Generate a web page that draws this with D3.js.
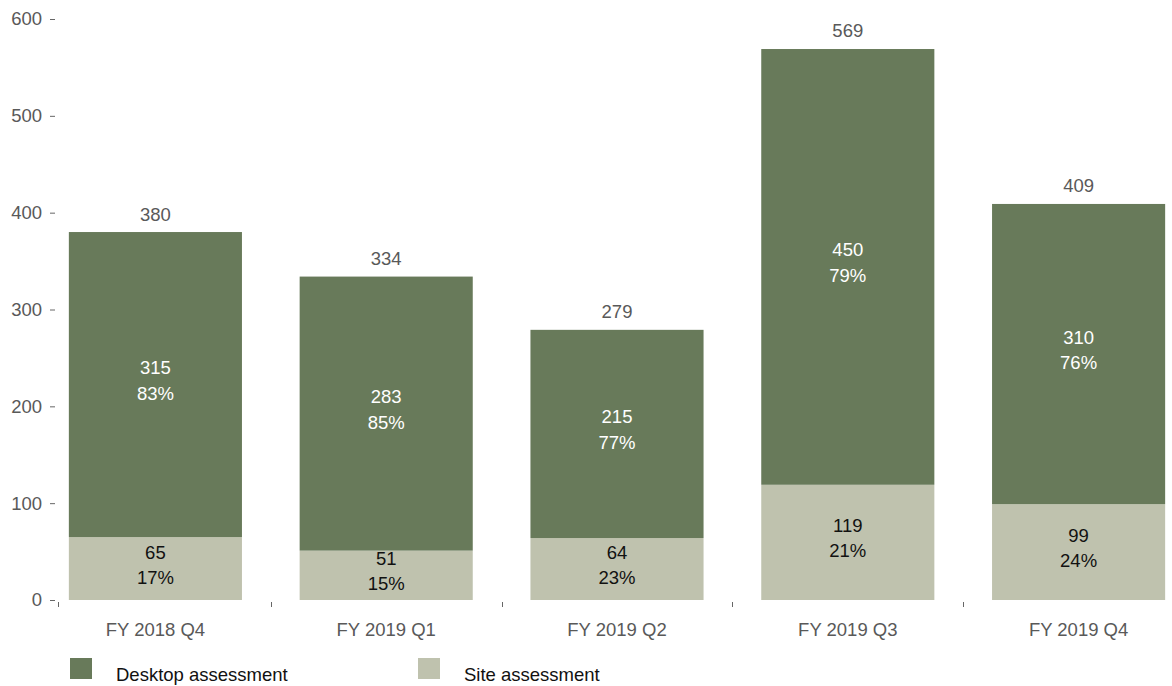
<!DOCTYPE html>
<html><head><meta charset="utf-8">
<script src="https://cdn.jsdelivr.net/npm/d3@7"></script>
<style>body{margin:0;background:#fff;} text{font-family:Arial,"Liberation Sans",sans-serif;}</style>
</head><body><svg id="c" width="1172" height="686"></svg>
<script>
const categories = ["FY 2018 Q4","FY 2019 Q1","FY 2019 Q2","FY 2019 Q3","FY 2019 Q4"];
const desktop = [315,283,215,450,310];
const site = [65,51,64,119,99];
const desktopPct = ["83%","85%","77%","79%","76%"];
const sitePct = ["17%","15%","23%","21%","24%"];
const yTicks = [0,100,200,300,400,500,600];
const seriesNames = ["Desktop assessment","Site assessment"];
const colors = ["#687a5a","#bfc2ae"];

const svg = d3.select("#c");
const x = d3.scaleBand().domain(categories).range([40,1194]).paddingInner(0.25).paddingOuter(0.125);
const y = d3.scaleLinear().domain([0,600]).range([600,19]);
const fs = 18.5;

// y axis
const ya = svg.append("g");
yTicks.forEach(t=>{
  ya.append("line").attr("x1",50).attr("x2",55).attr("y1",y(t)+0.5).attr("y2",y(t)+0.5).attr("stroke","#666").attr("stroke-width",1);
  ya.append("text").attr("x",42).attr("y",y(t)).attr("dy","0.35em").attr("text-anchor","end")
    .attr("fill","#595959").attr("font-size",fs).text(t);
});
// x ticks between categories
const step = x.step();
const bounds = [58].concat(categories.slice(1).map(c=>x(c)-x.paddingInner()*step/2));
bounds.forEach(b=>{
  svg.append("line").attr("x1",Math.round(b)+0.5).attr("x2",Math.round(b)+0.5).attr("y1",602).attr("y2",607).attr("stroke","#666");
});
categories.forEach(c=>{
  svg.append("text").attr("x",x(c)+x.bandwidth()/2).attr("y",630).attr("dy","0.35em").attr("text-anchor","middle")
    .attr("fill","#595959").attr("font-size",fs).text(c);
});

// bars
categories.forEach((c,i)=>{
  const bx = x(c), bw = x.bandwidth(), cx = bx+bw/2;
  const tot = site[i]+desktop[i];
  svg.append("rect").attr("x",bx).attr("width",bw).attr("y",y(site[i])).attr("height",y(0)-y(site[i])).attr("fill",colors[1]);
  svg.append("rect").attr("x",bx).attr("width",bw).attr("y",y(tot)).attr("height",y(site[i])-y(tot)).attr("fill",colors[0]);
  const mS = (y(0)+y(site[i]))/2, mD = (y(site[i])+y(tot))/2;
  svg.append("text").attr("x",cx).attr("y",mD-17).attr("dy","0.35em").attr("text-anchor","middle").attr("fill","#fff").attr("font-size",fs).text(desktop[i]);
  svg.append("text").attr("x",cx).attr("y",mD+8.5).attr("dy","0.35em").attr("text-anchor","middle").attr("fill","#fff").attr("font-size",fs).text(desktopPct[i]);
  svg.append("text").attr("x",cx).attr("y",mS-16.5).attr("dy","0.35em").attr("text-anchor","middle").attr("fill","#111").attr("font-size",fs).text(site[i]);
  svg.append("text").attr("x",cx).attr("y",mS+8.5).attr("dy","0.35em").attr("text-anchor","middle").attr("fill","#111").attr("font-size",fs).text(sitePct[i]);
  svg.append("text").attr("x",cx).attr("y",y(tot)-18).attr("dy","0.35em").attr("text-anchor","middle").attr("fill","#595959").attr("font-size",fs).text(tot);
});

// legend
const lx = [70,418];
seriesNames.forEach((s,i)=>{
  svg.append("rect").attr("x",lx[i]).attr("y",658).attr("width",22).attr("height",21).attr("fill",colors[i]);
  svg.append("text").attr("x",lx[i]+46).attr("y",675).attr("dy","0.35em").attr("fill","#111").attr("font-size",fs).text(s);
});
</script></body></html>
